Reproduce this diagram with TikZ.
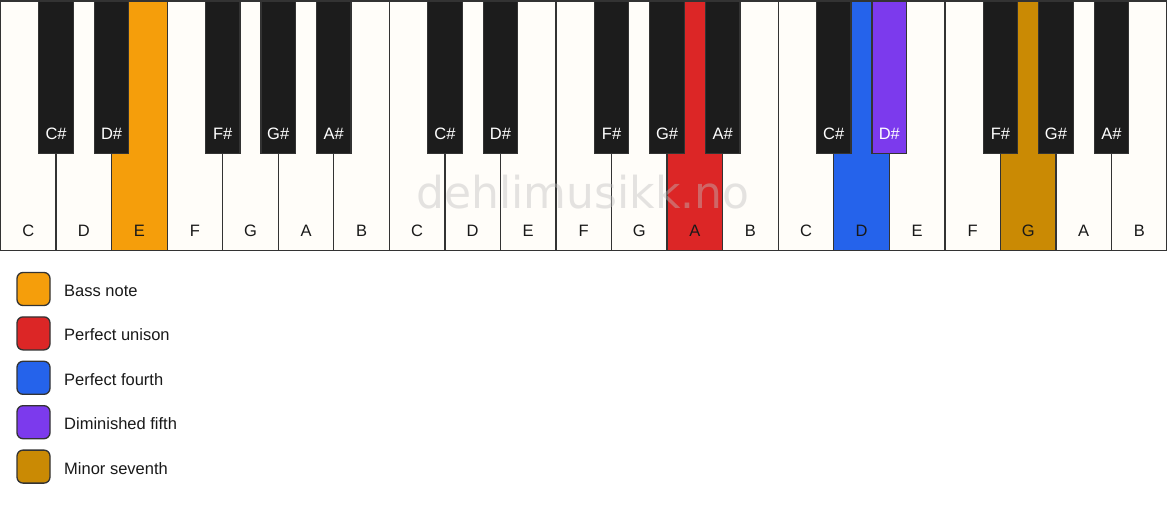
\documentclass[tikz,border=0pt]{standalone}
\usepackage{fontspec}
\setmainfont{Liberation Sans}
\newfontfamily\wmfont{DejaVu Sans}
\definecolor{keywhite}{HTML}{FFFDF9}
\definecolor{keyblack}{HTML}{1C1C1C}
\definecolor{keyline}{HTML}{333333}
\definecolor{bassc}{HTML}{F59E0B}
\definecolor{unisonc}{HTML}{DC2626}
\definecolor{fourthc}{HTML}{2563EB}
\definecolor{dimfifthc}{HTML}{7C3AED}
\definecolor{minsevc}{HTML}{CA8A04}
\tikzset{
  whitekey/.style={draw=keyline, line width=1.3pt, minimum width=55.55pt, minimum height=249pt, inner sep=0pt, anchor=north},
  blackkey/.style={draw=keyline, line width=1.2pt, minimum width=34.5pt, minimum height=152.5pt, inner sep=0pt, anchor=north},
  wlabel/.style={font=\fontsize{16.5}{18}\selectfont, text=black!90, anchor=base, inner sep=0pt},
  blabel/.style={font=\fontsize{16.5}{18}\selectfont, text=white, anchor=base, inner sep=0pt},
  legbox/.style={draw=keyline, line width=1.3pt, rounded corners=6pt, minimum width=33pt, minimum height=33pt, inner sep=0pt},
  legtext/.style={font=\fontsize{16.5}{18}\selectfont, text=black!90, anchor=west, inner sep=0pt},
  wm/.style={font=\wmfont\fontsize{44}{48}\selectfont, text=black!25, opacity=0.42, anchor=base, inner sep=0pt}
}
\begin{document}
\begin{tikzpicture}[x=1pt,y=-1pt]
\useasboundingbox (0,0) rectangle (1167,506);
\fill[white] (0,0) rectangle (1167,506);
% white keys
\foreach \i/\n/\c in {0/C/keywhite,1/D/keywhite,2/E/bassc,3/F/keywhite,4/G/keywhite,5/A/keywhite,6/B/keywhite,
  7/C/keywhite,8/D/keywhite,9/E/keywhite,10/F/keywhite,11/G/keywhite,12/A/unisonc,13/B/keywhite,
  14/C/keywhite,15/D/fourthc,16/E/keywhite,17/F/keywhite,18/G/minsevc,19/A/keywhite,20/B/keywhite}{
  \node[whitekey, fill=\c] (w\i) at ({0.5+(\i+0.5)*55.55},0.5) {};
}
% black keys
\foreach \k/\n/\c in {1/C\#/keyblack,2/D\#/keyblack,4/F\#/keyblack,5/G\#/keyblack,6/A\#/keyblack,
  8/C\#/keyblack,9/D\#/keyblack,11/F\#/keyblack,12/G\#/keyblack,13/A\#/keyblack,
  15/C\#/keyblack,16/D\#/dimfifthc,18/F\#/keyblack,19/G\#/keyblack,20/A\#/keyblack}{
  \node[blackkey, fill=\c] (b\k) at ({0.5+\k*55.55},0.5) {};
  \node[blabel] (bl\k) at ({0.5+\k*55.55},139.5) {\n};
}
% white key labels
\foreach \i/\n in {0/C,1/D,2/E,3/F,4/G,5/A,6/B,7/C,8/D,9/E,10/F,11/G,12/A,13/B,14/C,15/D,16/E,17/F,18/G,19/A,20/B}{
  \node[wlabel] (wl\i) at ({0.5+(\i+0.5)*55.55},236.5) {\n};
}
% watermark
\node[wm] (wmark) at (583,208) {dehlimusikk.no};
% legend
\foreach \i/\c/\t in {0/bassc/Bass note,1/unisonc/Perfect unison,2/fourthc/Perfect fourth,3/dimfifthc/Diminished fifth,4/minsevc/Minor seventh}{
  \node[legbox, fill=\c] (lb\i) at (33.5,{289+\i*44.4}) {};
  \node[legtext] (lt\i) at (64,{290.5+\i*44.4}) {\t};
}
\end{tikzpicture}
\end{document}
